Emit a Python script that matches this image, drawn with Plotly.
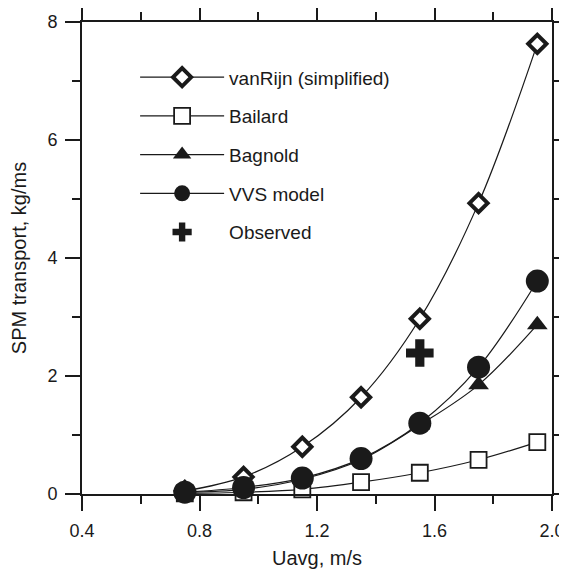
import plotly.graph_objects as go

u = [0.75, 0.95, 1.15, 1.35, 1.55, 1.75, 1.95]
vanrijn = [0.05, 0.29, 0.80, 1.64, 2.97, 4.93, 7.63]
bailard = [0.01, 0.03, 0.08, 0.20, 0.36, 0.58, 0.88]
bagnold = [0.03, 0.08, 0.25, 0.58, 1.17, 1.85, 2.87]
vvs = [0.03, 0.11, 0.27, 0.60, 1.20, 2.15, 3.61]
obs_u = [1.55]
obs_q = [2.39]

FONT = "Liberation Sans, Arial, sans-serif"
BLACK = "#1a1a1a"

fig = go.Figure()
fig.add_trace(go.Scatter(
    x=u, y=vanrijn, name="vanRijn (simplified)", mode="lines+markers",
    line=dict(color=BLACK, width=1.2, shape="spline"),
    marker=dict(symbol="diamond", size=14, color="white", line=dict(color=BLACK, width=4)),
    cliponaxis=False, legendgroup="a"))
fig.add_trace(go.Scatter(
    x=u, y=bailard, name="Bailard", mode="lines+markers",
    line=dict(color=BLACK, width=1.2, shape="spline"),
    marker=dict(symbol="square", size=16, color="white", line=dict(color=BLACK, width=1.8)),
    cliponaxis=False, legendgroup="b"))
fig.add_trace(go.Scatter(
    x=u, y=bagnold, name="Bagnold", mode="lines+markers",
    line=dict(color=BLACK, width=1.2, shape="spline"),
    marker=dict(symbol="triangle-up", size=18, color=BLACK, line=dict(width=0)),
    cliponaxis=False, legendgroup="c"))
fig.add_trace(go.Scatter(
    x=u, y=vvs, name="VVS model", mode="lines+markers",
    line=dict(color=BLACK, width=1.2, shape="spline"),
    marker=dict(symbol="circle", size=23, color=BLACK, line=dict(width=0)),
    cliponaxis=False, legendgroup="d"))
fig.add_trace(go.Scatter(
    x=obs_u, y=obs_q, name="Observed", mode="markers",
    marker=dict(symbol="cross", size=23, color=BLACK, line=dict(width=0)),
    cliponaxis=False, legendgroup="e"))

axis_common = dict(
    showline=True, linecolor=BLACK, linewidth=2, mirror="allticks",
    ticks="outside", ticklen=15, tickwidth=2, tickcolor=BLACK,
    showgrid=False, zeroline=False, automargin=False,
    tickfont=dict(family=FONT, size=18, color=BLACK),
)

fig.update_layout(
    width=559, height=564,
    margin=dict(l=74, r=15, t=14, b=78),
    paper_bgcolor="white", plot_bgcolor="white",
    font=dict(family=FONT, color=BLACK),
    showlegend=True,
    legend=dict(
        x=0.113, y=0.923, xanchor="left", yanchor="top",
        bgcolor="rgba(0,0,0,0)", font=dict(family=FONT, size=19, color=BLACK),
        tracegroupgap=11, itemwidth=84,
    ),
    xaxis=dict(
        range=[0.4, 2.0], tickmode="array", tickvals=[0.4, 0.8, 1.2, 1.6, 2.0],
        ticktext=["0.4", "0.8", "1.2", "1.6", "2.0"],
        ticklabelstandoff=4,
        minor=dict(tickvals=[0.6, 1.0, 1.4, 1.8], ticklen=8, tickwidth=2, tickcolor=BLACK, ticks="outside"),
        title=dict(text="Uavg, m/s", font=dict(family=FONT, size=20, color=BLACK), standoff=11),
        **axis_common,
    ),
    yaxis=dict(
        range=[0, 8], tickmode="array", tickvals=[0, 2, 4, 6, 8],
        ticklabelstandoff=4,
        minor=dict(tickvals=[1, 3, 5, 7], ticklen=8, tickwidth=2, tickcolor=BLACK, ticks="outside"),
        title=dict(text="SPM transport, kg/ms", font=dict(family=FONT, size=20, color=BLACK), standoff=18),
        **axis_common,
    ),
)

fig.write_html("out.html")
